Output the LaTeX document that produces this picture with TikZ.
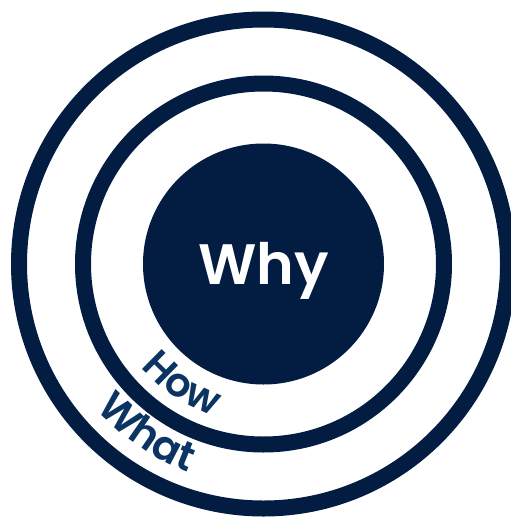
\documentclass[tikz,border=0pt]{standalone}
\usepackage{fontspec}
\setmainfont{Poppins}[BoldFont={Poppins SemiBold}]
\usetikzlibrary{decorations.text}
\definecolor{navy}{HTML}{021C42}
\definecolor{inkblue}{HTML}{0C3462}

\begin{document}
\begin{tikzpicture}[x=1pt,y=1pt,
    ring/.style={draw=navy, line width=16pt},
    arclabel/.style 2 args={decorate, decoration={text along path, text align=center,
        text={|\fontsize{#1}{#1}\selectfont\bfseries\color{inkblue}|#2}}}]
  \useasboundingbox[fill=white] (0,0) rectangle (511,-517);
  \coordinate (c) at (263.5,-264);
  % rings
  \draw[ring] (c) circle[radius=244.5pt];
  \draw[ring] (c) circle[radius=180.5pt];
  \node[circle, fill=navy, minimum size=241pt, inner sep=0pt, text=white,
        font=\fontsize{57}{60}\selectfont\bfseries, text height=40pt, text depth=0pt] (why) at (c) {Why};
  % labels on the rings
  \path[arclabel={40}{How}] ([shift={(195:160pt)}]c) arc[start angle=195, end angle=277, radius=160pt];
  \path[arclabel={41}{What}] ([shift={(190:221pt)}]c) arc[start angle=190, end angle=281, radius=221pt];
\end{tikzpicture}
\end{document}
